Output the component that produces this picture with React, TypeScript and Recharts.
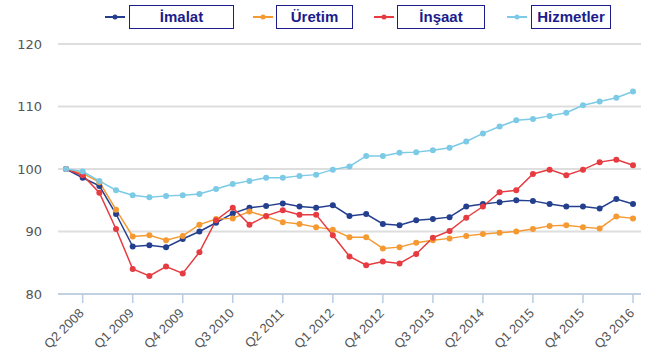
import { LineChart, Line, XAxis, YAxis, CartesianGrid } from "recharts";

const quarters = [
  "Q1 2008", "Q2 2008", "Q3 2008", "Q4 2008",
  "Q1 2009", "Q2 2009", "Q3 2009", "Q4 2009",
  "Q1 2010", "Q2 2010", "Q3 2010", "Q4 2010",
  "Q1 2011", "Q2 2011", "Q3 2011", "Q4 2011",
  "Q1 2012", "Q2 2012", "Q3 2012", "Q4 2012",
  "Q1 2013", "Q2 2013", "Q3 2013", "Q4 2013",
  "Q1 2014", "Q2 2014", "Q3 2014", "Q4 2014",
  "Q1 2015", "Q2 2015", "Q3 2015", "Q4 2015",
  "Q1 2016", "Q2 2016", "Q3 2016",
];

const tickLabels = [
  "Q2 2008", "Q1 2009", "Q4 2009", "Q3 2010", "Q2 2011", "Q1 2012",
  "Q4 2012", "Q3 2013", "Q2 2014", "Q1 2015", "Q4 2015", "Q3 2016",
];

const imalat = [
  100, 98.6, 97.3, 92.8, 87.6, 87.8, 87.5, 88.8, 90.0, 91.4, 92.9, 93.8,
  94.1, 94.5, 94.0, 93.8, 94.2, 92.5, 92.8, 91.2, 91.0, 91.8, 92.0, 92.3,
  94.0, 94.4, 94.7, 95.0, 94.9, 94.4, 94.0, 94.0, 93.7, 95.2, 94.4,
];

const uretim = [
  100, 99.3, 97.9, 93.5, 89.2, 89.4, 88.6, 89.3, 91.1, 92.0, 92.1, 93.2,
  92.4, 91.5, 91.2, 90.7, 90.3, 89.1, 89.1, 87.3, 87.5, 88.2, 88.6, 88.9,
  89.3, 89.6, 89.8, 90.0, 90.4, 90.9, 91.0, 90.7, 90.5, 92.4, 92.1,
];

const insaat = [
  100, 99.0, 96.2, 90.4, 84.0, 82.9, 84.4, 83.3, 86.7, 91.8, 93.8, 91.1,
  92.5, 93.4, 92.7, 92.7, 89.4, 86.0, 84.6, 85.2, 84.9, 86.4, 89.0, 90.1,
  92.2, 94.0, 96.3, 96.6, 99.2, 99.9, 99.0, 99.9, 101.1, 101.5, 100.6,
];

const hizmetler = [
  100, 99.6, 98.1, 96.6, 95.8, 95.5, 95.7, 95.8, 96.0, 96.8, 97.6, 98.1,
  98.6, 98.6, 98.9, 99.1, 99.9, 100.4, 102.1, 102.1, 102.6, 102.7, 103.0, 103.4,
  104.4, 105.7, 106.8, 107.8, 108.0, 108.5, 109.0, 110.2, 110.8, 111.4, 112.4,
];

const yTicks = [80, 90, 100, 110, 120];

const series = [
  { key: "imalat", name: "İmalat", color: "#253f8f", left: 105, boxLeft: 129, boxWidth: 105 },
  { key: "uretim", name: "Üretim", color: "#f59a32", left: 253, boxLeft: 276, boxWidth: 77 },
  { key: "insaat", name: "İnşaat", color: "#e63b40", left: 374, boxLeft: 397, boxWidth: 88 },
  { key: "hizmetler", name: "Hizmetler", color: "#7ccae6", left: 507, boxLeft: 531, boxWidth: 80 },
];

const data = quarters.map((q, i) => ({
  q,
  imalat: imalat[i],
  uretim: uretim[i],
  insaat: insaat[i],
  hizmetler: hizmetler[i],
}));

function XTick({ x, y, payload }: any) {
  return (
    <g transform={`translate(${x + 2},${y + 9})`}>
      <text
        x={0}
        y={0}
        textAnchor="end"
        transform="rotate(-45)"
        fontSize={13}
        fontFamily="Liberation Sans, Arial, sans-serif"
        fill="#555"
      >
        {payload.value}
      </text>
    </g>
  );
}

function LegendBar() {
  return (
    <>
      {series.map((s) => (
        <div key={s.key}>
          <svg
            width={20}
            height={10}
            style={{ position: "absolute", left: s.left, top: 12 }}
          >
            <line x1={0} y1={5} x2={20} y2={5} stroke={s.color} strokeWidth={2} />
            <circle cx={10} cy={5} r={2.5} fill={s.color} />
          </svg>
          <div
            style={{
              position: "absolute",
              left: s.boxLeft,
              top: 5,
              width: s.boxWidth,
              height: 24,
              boxSizing: "border-box",
              border: "1.5px solid #1c1c8c",
              background: "#fff",
              color: "#1c1c8c",
              fontFamily: "Liberation Sans, Arial, sans-serif",
              fontWeight: "bold",
              fontSize: 15,
              lineHeight: "21px",
              textAlign: "center",
            }}
          >
            {s.name}
          </div>
        </div>
      ))}
    </>
  );
}

export default function App() {
  return (
    <div style={{ position: "absolute", left: 0, top: 0, width: 660, height: 362, background: "#fff" }}>
      <LineChart
        width={660}
        height={362}
        data={data}
        margin={{ top: 44, right: 19, bottom: 8, left: 8 }}
      >
        <CartesianGrid vertical={false} stroke="#dedede" strokeWidth={2} />
        <XAxis
          dataKey="q"
          ticks={tickLabels}
          interval={0}
          height={60}
          padding={{ left: 8, right: 8 }}
          axisLine={{ stroke: "#b9cde3", strokeWidth: 1.5 }}
          tickLine={{ stroke: "#b9cde3", strokeWidth: 1.5 }}
          tickSize={9}
          tick={<XTick />}
        />
        <YAxis
          domain={[80, 120]}
          ticks={yTicks}
          width={50}
          axisLine={false}
          tickLine={false}
          tickSize={0}
          tickMargin={16}
          tick={{ fontSize: 13, fill: "#555", fontFamily: "DejaVu Sans, sans-serif" }}
        />
        {series.map((s) => (
          <Line
            key={s.key}
            dataKey={s.key}
            name={s.name}
            stroke={s.color}
            strokeWidth={1.5}
            dot={{ r: 3, fill: s.color, stroke: "none" }}
            activeDot={false}
            isAnimationActive={false}
          />
        ))}
      </LineChart>
      <LegendBar />
    </div>
  );
}
